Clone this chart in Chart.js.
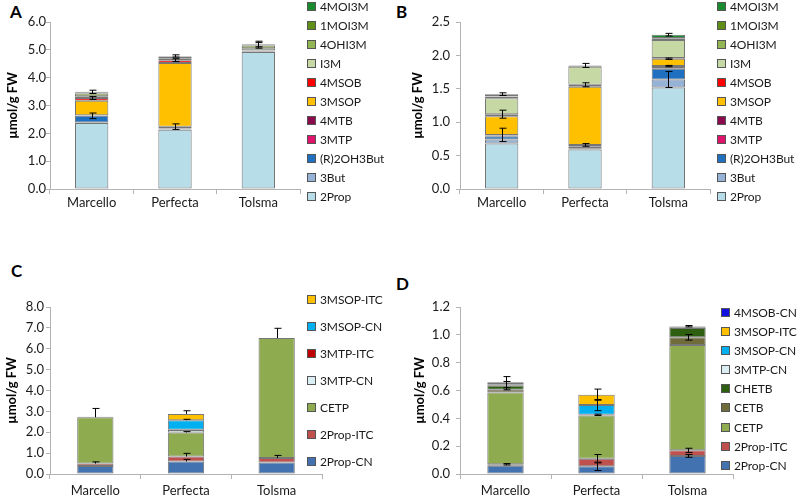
<!DOCTYPE html>
<html>
<head>
<meta charset="utf-8">
<script src="https://cdn.jsdelivr.net/npm/chart.js@4.4.0/dist/chart.umd.min.js"></script>
<style>
  body { margin: 0; width: 800px; height: 499px; position: relative; background: #fff; overflow: hidden; font-family: Lato, sans-serif; }
  .panel { position: absolute; }
  .letter { position: absolute; font: bold 17px Lato, sans-serif; color: #000; line-height: 1; }
  .legend { position: absolute; font: 12px Lato, sans-serif; color: #1a1a1a; letter-spacing: -0.1px; }
  .legend .item { display: flex; align-items: center; white-space: nowrap; }
  .legend .box { width: 7px; height: 7px; border: 1px solid #555; margin-right: 4px; flex: none; }
</style>
</head>
<body>
<div class="letter" style="left:10px;top:3px">A</div>
<div class="letter" style="left:396px;top:3px">B</div>
<div class="letter" style="left:11px;top:262px">C</div>
<div class="letter" style="left:396px;top:275px">D</div>

<div class="panel" style="left:0;top:0"><canvas id="chartA" width="400" height="250"></canvas></div>
<div class="panel" style="left:400px;top:0"><canvas id="chartB" width="400" height="250"></canvas></div>
<div class="panel" style="left:0;top:250px"><canvas id="chartC" width="400" height="249"></canvas></div>
<div class="panel" style="left:400px;top:250px"><canvas id="chartD" width="400" height="249"></canvas></div>

<div class="legend" id="legendA"></div>
<div class="legend" id="legendB"></div>
<div class="legend" id="legendC"></div>
<div class="legend" id="legendD"></div>

<script>
// Cultivars on the x axis
const cultivars = ['Marcello', 'Perfecta', 'Tolsma'];

// Glucosinolates (panels A and B), bottom of the stack first
const glsLabels = ['2Prop', '3But', '(R)2OH3But', '3MTP', '4MTB', '3MSOP', '4MSOB', 'I3M', '4OHI3M', '1MOI3M', '4MOI3M'];
const glsColors = ['#b7dde8', '#95b3d7', '#1f70c1', '#e0136b', '#8b0a4e', '#ffc000', '#ff0000', '#c6d9a4', '#93b553', '#5f8f16', '#1a8a2e'];

// Panel A values (one row per compound: Marcello, Perfecta, Tolsma)
const valuesA = [
  [2.37, 2.13, 4.92],
  [0.02, 0.02, 0.02],
  [0.24, 0.02, 0.02],
  [0.00, 0.02, 0.00],
  [0.02, 0.05, 0.00],
  [0.52, 2.29, 0.01],
  [0.10, 0.10, 0.01],
  [0.06, 0.07, 0.08],
  [0.10, 0.05, 0.10],
  [0.03, 0.02, 0.03],
  [0.03, 0.01, 0.02]
];
const errorsA = [
  [0, 0, 0],
  [0, 0, 0],
  [0.10, 0, 0],
  [0, 0, 0],
  [0, 0.10, 0],
  [0, 0, 0],
  [0.05, 0.05, 0],
  [0, 0, 0],
  [0, 0, 0.10],
  [0, 0, 0],
  [0.06, 0.04, 0.10]
];

// Panel B values
const valuesB = [
  [0.68, 0.59, 1.52],
  [0.06, 0.02, 0.12],
  [0.05, 0.02, 0.16],
  [0.01, 0.01, 0.01],
  [0.01, 0.02, 0.03],
  [0.28, 0.87, 0.11],
  [0.03, 0.03, 0.01],
  [0.24, 0.27, 0.27],
  [0.02, 0.00, 0.02],
  [0.01, 0.00, 0.01],
  [0.03, 0.02, 0.05]
];
const errorsB = [
  [0, 0, 0],
  [0, 0, 0.12],
  [0, 0, 0],
  [0, 0, 0],
  [0.10, 0.02, 0.01],
  [0, 0, 0.01],
  [0.06, 0.03, 0],
  [0, 0, 0],
  [0, 0, 0],
  [0, 0, 0],
  [0.02, 0.03, 0.02]
];

// Breakdown products in panel C
const bpLabelsC = ['2Prop-CN', '2Prop-ITC', 'CETP', '3MTP-CN', '3MTP-ITC', '3MSOP-CN', '3MSOP-ITC'];
const bpColorsC = ['#4272b0', '#c0504d', '#8eab4f', '#dbeef4', '#c00000', '#00b0f0', '#ffc000'];
const valuesC = [
  [0.38, 0.60, 0.55],
  [0.12, 0.24, 0.22],
  [2.22, 1.15, 5.74],
  [0.00, 0.12, 0.00],
  [0.02, 0.01, 0.00],
  [0.00, 0.46, 0.00],
  [0.00, 0.30, 0.00]
];
const errorsC = [
  [0, 0.10, 0],
  [0.08, 0.15, 0.12],
  [0.42, 0.04, 0.47],
  [0, 0, 0],
  [0, 0, 0],
  [0, 0.04, 0],
  [0, 0.15, 0]
];

// Breakdown products in panel D
const bpLabelsD = ['2Prop-CN', '2Prop-ITC', 'CETP', 'CETB', 'CHETB', '3MTP-CN', '3MSOP-CN', '3MSOP-ITC', '4MSOB-CN'];
const bpColorsD = ['#4272b0', '#c0504d', '#8eab4f', '#6f6b3b', '#2e5f10', '#dbeef4', '#00b0f0', '#ffc000', '#1010e0'];
const valuesD = [
  [0.060, 0.055, 0.130],
  [0.010, 0.055, 0.040],
  [0.515, 0.310, 0.757],
  [0.020, 0.000, 0.055],
  [0.030, 0.005, 0.068],
  [0.010, 0.000, 0.005],
  [0.015, 0.070, 0.005],
  [0.000, 0.075, 0.000],
  [0.000, 0.000, 0.002]
];
const errorsD = [
  [0, 0.03, 0.01],
  [0.005, 0.03, 0.015],
  [0, 0, 0],
  [0, 0, 0.02],
  [0.03, 0.005, 0],
  [0, 0, 0],
  [0.04, 0.04, 0],
  [0, 0.04, 0],
  [0, 0, 0.005]
];

// Error bars drawn at the top of each stacked segment
const errorBars = {
  id: 'errorBars',
  afterDatasetsDraw(chart, args, opts) {
    const ctx = chart.ctx;
    const yScale = chart.scales.y;
    ctx.save();
    ctx.strokeStyle = '#000';
    ctx.lineWidth = 1;
    chart.data.datasets.forEach((ds, di) => {
      const meta = chart.getDatasetMeta(di);
      meta.data.forEach((bar, i) => {
        const e = ds.errors[i];
        if (!e) return;
        let top = 0;
        for (let k = 0; k <= di; k++) top += chart.data.datasets[k].data[i];
        const yTop = yScale.getPixelForValue(top);
        const hi = yScale.getPixelForValue(top + e);
        const lo = opts.upOnly ? yTop : yScale.getPixelForValue(top - e);
        const x = Math.round(bar.x) + 0.5;
        ctx.beginPath();
        ctx.moveTo(x, lo);
        ctx.lineTo(x, hi);
        ctx.moveTo(x - 3, hi);
        ctx.lineTo(x + 4, hi);
        if (!opts.upOnly) {
          ctx.moveTo(x - 3, lo);
          ctx.lineTo(x + 4, lo);
        }
        ctx.stroke();
      });
    });
    ctx.restore();
  }
};

const axisColor = '#b3b3b3';

function makeChart(id, labels, colors, values, errors, opt) {
  const datasets = labels.map((label, i) => ({
    label: label,
    data: values[i],
    errors: errors[i],
    backgroundColor: colors[i],
    borderColor: 'rgba(60,60,60,0.7)',
    borderWidth: ctx => (ctx.raw > 0 ? 1 : 0),
    borderSkipped: false,
    categoryPercentage: 0.4,
    barPercentage: 1
  }));

  return new Chart(document.getElementById(id), {
    type: 'bar',
    data: { labels: cultivars, datasets: datasets },
    plugins: [errorBars],
    options: {
      responsive: false,
      animation: false,
      layout: { padding: { top: opt.top, right: opt.right, left: 0, bottom: 0 } },
      plugins: {
        legend: { display: false },
        tooltip: { enabled: false },
        errorBars: { upOnly: opt.upOnly }
      },
      scales: {
        x: {
          stacked: true,
          afterFit: s => { s.height = opt.xHeight; },
          grid: { drawOnChartArea: false, color: axisColor, tickLength: 5 },
          border: { color: axisColor },
          ticks: { color: '#1a1a1a', padding: opt.xPad, font: { family: 'Lato', size: 13 } }
        },
        y: {
          stacked: true,
          min: 0,
          max: opt.max,
          afterFit: s => { s.width = opt.yWidth; },
          grid: { drawOnChartArea: false, color: axisColor, tickLength: 4 },
          border: { color: axisColor },
          ticks: {
            stepSize: opt.step,
            padding: opt.tickPad,
            color: '#1a1a1a',
            font: { family: 'Lato', size: 13 },
            callback: v => v.toFixed(1)
          },
          title: {
            display: true,
            text: 'µmol/g FW',
            color: '#000',
            font: { family: 'Lato', size: 13, weight: 'bold' },
            padding: { top: opt.titlePad, bottom: 0 }
          }
        }
      }
    }
  });
}

// HTML legend built from the chart's own datasets, top item = last dataset
function buildLegend(chart, elId, left, top, step) {
  const el = document.getElementById(elId);
  el.style.left = left + 'px';
  el.style.top = top + 'px';
  const items = chart.data.datasets.slice().reverse();
  items.forEach(ds => {
    const row = document.createElement('div');
    row.className = 'item';
    row.style.height = step + 'px';
    row.innerHTML = `<span class="box" style="background:${ds.backgroundColor}"></span>${ds.label}`;
    el.appendChild(row);
  });
}

const chartA = makeChart('chartA', glsLabels, glsColors, valuesA, errorsA,
  { max: 6, step: 1, top: 22, right: 100, yWidth: 50, xHeight: 61, xPad: 1, tickPad: 0, titlePad: 5, upOnly: false });
const chartB = makeChart('chartB', glsLabels, glsColors, valuesB, errorsB,
  { max: 2.5, step: 0.5, top: 22, right: 90, yWidth: 60, xHeight: 61, xPad: 1, tickPad: 6, titlePad: 10, upOnly: false });
const chartC = makeChart('chartC', bpLabelsC, bpColorsC, valuesC, errorsC,
  { max: 8, step: 1, top: 57, right: 78, yWidth: 50, xHeight: 25, xPad: 4, tickPad: 2, titlePad: 4, upOnly: true });
const chartD = makeChart('chartD', bpLabelsD, bpColorsD, valuesD, errorsD,
  { max: 1.2, step: 0.2, top: 57, right: 67, yWidth: 60, xHeight: 25, xPad: 4, tickPad: 6, titlePad: 12, upOnly: false });

buildLegend(chartA, 'legendA', 307, -3, 19.06);
buildLegend(chartB, 'legendB', 717, -3, 19.06);
buildLegend(chartC, 'legendC', 307, 286, 26.95);
buildLegend(chartD, 'legendD', 721, 303, 19.09);
</script>
</body>
</html>
